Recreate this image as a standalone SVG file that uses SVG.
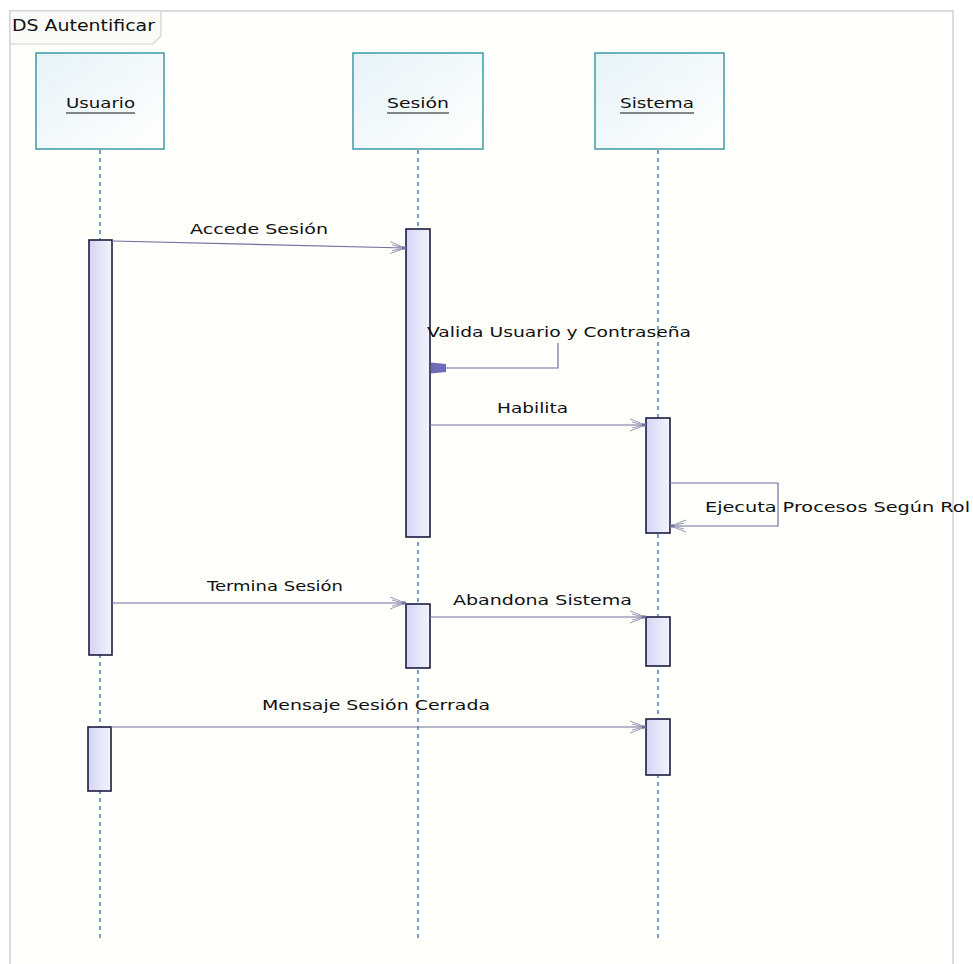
<svg xmlns="http://www.w3.org/2000/svg" width="973" height="964" viewBox="0 0 973 964">
  <defs>
    <linearGradient id="headFill" x1="0" y1="0" x2="1" y2="1">
      <stop offset="0" stop-color="#e6f3f8"/>
      <stop offset="1" stop-color="#ffffff"/>
    </linearGradient>
    <linearGradient id="actFill" x1="0" y1="0" x2="1" y2="0">
      <stop offset="0" stop-color="#d4d4f6"/>
      <stop offset="1" stop-color="#f4f4fc"/>
    </linearGradient>
    <!-- open stick arrowhead ending in a small tip block -->
    <marker id="open" markerWidth="18" markerHeight="14" refX="16" refY="7" orient="auto" markerUnits="userSpaceOnUse">
      <path d="M1,1 L15,6.5 M1,13 L15,7.5 M3,4 L15,7 M3,10 L15,7" fill="none" stroke="#9a9ab4" stroke-width="1"/>
      <rect x="13" y="5.5" width="4" height="3" fill="#7070a8"/>
    </marker>
    <marker id="filled" markerWidth="18" markerHeight="14" refX="16" refY="7" orient="auto" markerUnits="userSpaceOnUse">
      <path d="M1,3 L16,1.5 L16,12.5 L1,11 Z" fill="#6c6cb8"/>
    </marker>
  </defs>
  <style>
    text { font-family: "DejaVu Sans", Verdana, sans-serif; font-size: 14.5px; fill: #111; }
    .head { fill: url(#headFill); stroke: #3c9aa6; stroke-width: 1.5; }
    .life { stroke: #2f6fa8; stroke-width: 1.3; stroke-dasharray: 4 4; fill: none; }
    .act { fill: url(#actFill); stroke: #1c1c40; stroke-width: 1.6; }
    .msg { stroke: #70709c; stroke-width: 1.2; fill: none; }
    .ul { stroke: #111; stroke-width: 1.2; }
    .frame { fill: none; stroke: #cfd0d8; stroke-width: 1.5; }
  </style>

  <rect width="973" height="964" fill="#ffffff"/>
  <rect x="10" y="11" width="943" height="960" fill="#fffffc"/>

  <!-- diagram frame with its name tab -->
  <g id="frame">
    <path class="frame" d="M10,970 L10,11 L953,11 L953,970"/>
    <path d="M10,11 L161,11 L161,36 L153,44 L10,44 Z" fill="#fafaf7" stroke="#cfd0d8" stroke-width="1.2"/>
    <text x="12" y="31" textLength="143" lengthAdjust="spacingAndGlyphs" style="font-size:15.5px">DS Autentificar</text>
  </g>

  <!-- lifelines -->
  <g id="usuario">
    <line class="life" x1="100" y1="150" x2="100" y2="938"/>
    <rect class="head" x="36" y="53" width="128" height="96"/>
    <text x="66" y="108" textLength="69" lengthAdjust="spacingAndGlyphs">Usuario</text>
    <line class="ul" x1="66" y1="113" x2="135" y2="113"/>
  </g>
  <g id="sesion">
    <line class="life" x1="418" y1="150" x2="418" y2="938"/>
    <rect class="head" x="353" y="53" width="130" height="96"/>
    <text x="387" y="108" textLength="62" lengthAdjust="spacingAndGlyphs">Sesión</text>
    <line class="ul" x1="387" y1="113" x2="449" y2="113"/>
  </g>
  <g id="sistema">
    <line class="life" x1="658" y1="150" x2="658" y2="938"/>
    <rect class="head" x="595" y="53" width="129" height="96"/>
    <text x="620" y="108" textLength="74" lengthAdjust="spacingAndGlyphs">Sistema</text>
    <line class="ul" x1="620" y1="113" x2="694" y2="113"/>
  </g>

  <!-- activation bars -->
  <g id="activations">
    <rect class="act" x="89" y="240" width="23" height="415"/>
    <rect class="act" x="406" y="229" width="24" height="308"/>
    <rect class="act" x="646" y="418" width="24" height="115"/>
    <rect class="act" x="406" y="604" width="24" height="64"/>
    <rect class="act" x="646" y="617" width="24" height="49"/>
    <rect class="act" x="88" y="727" width="23" height="64"/>
    <rect class="act" x="646" y="719" width="24" height="56"/>
  </g>

  <!-- messages -->
  <g id="connectors">
    <path class="msg" d="M112,241 L405,248" marker-end="url(#open)"/>
    <path class="msg" d="M558,343 L558,368 L431,368" marker-end="url(#filled)"/>
    <path class="msg" d="M430,425 L645,425" marker-end="url(#open)"/>
    <path class="msg" d="M670,483 L778,483 L778,526 L671,526" marker-end="url(#open)"/>
    <path class="msg" d="M112,603 L405,603" marker-end="url(#open)"/>
    <path class="msg" d="M430,617 L645,617" marker-end="url(#open)"/>
    <path class="msg" d="M111,727 L645,727" marker-end="url(#open)"/>
  </g>

  <!-- message labels -->
  <g id="labels">
    <text x="190" y="234" textLength="138" lengthAdjust="spacingAndGlyphs">Accede Sesión</text>
    <text x="427" y="337" textLength="264" lengthAdjust="spacingAndGlyphs">Valida Usuario y Contraseña</text>
    <text x="497" y="413" textLength="71" lengthAdjust="spacingAndGlyphs">Habilita</text>
    <text x="705" y="512" textLength="265" lengthAdjust="spacingAndGlyphs">Ejecuta Procesos Según Rol</text>
    <text x="207" y="591" textLength="136" lengthAdjust="spacingAndGlyphs">Termina Sesión</text>
    <text x="453" y="605" textLength="179" lengthAdjust="spacingAndGlyphs">Abandona Sistema</text>
    <text x="262" y="710" textLength="228" lengthAdjust="spacingAndGlyphs">Mensaje Sesión Cerrada</text>
  </g>
</svg>
